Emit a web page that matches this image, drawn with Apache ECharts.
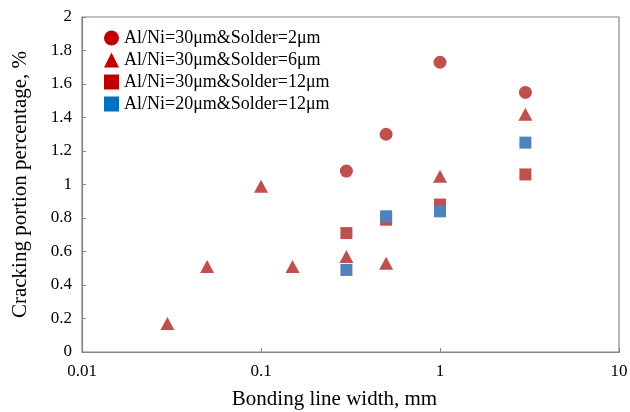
<!DOCTYPE html>
<html>
<head>
<meta charset="utf-8">
<script src="https://cdn.jsdelivr.net/npm/echarts@6/dist/echarts.min.js"></script>
<style>
html,body{margin:0;padding:0;background:#fff;}
#chart{width:630px;height:412px;}
</style>
</head>
<body>
<div id="chart"></div>
<script>
// Data
const seriesNames = [
  'Al/Ni=30μm&Solder=2μm',
  'Al/Ni=30μm&Solder=6μm',
  'Al/Ni=30μm&Solder=12μm',
  'Al/Ni=20μm&Solder=12μm'
];
const solder2X = [0.3, 0.5, 1, 3];
const solder2Y = [1.08, 1.30, 1.73, 1.55];
const solder6X = [0.03, 0.05, 0.1, 0.15, 0.3, 0.5, 1, 3];
const solder6Y = [0.17, 0.51, 0.99, 0.51, 0.57, 0.53, 1.05, 1.42];
const solder12X = [0.3, 0.5, 1, 3];
const solder12Y = [0.71, 0.79, 0.88, 1.06];
const alni20X = [0.3, 0.5, 1, 3];
const alni20Y = [0.49, 0.81, 0.84, 1.25];
const xTickLabels = ['0.01', '0.1', '1', '10'];
const xAxisTitle = 'Bonding line width, mm';
const yAxisTitle = 'Cracking portion percentage, %';

function pairs(xs, ys) { return xs.map((x, i) => [x, ys[i]]); }

const FONT = '"Liberation Serif", "Times New Roman", serif';
const RED = '#C0504D';
const BLUE = '#4F81BD';
const axisGray = '#868686';

const chart = echarts.init(document.getElementById('chart'), null, {renderer: 'canvas'});
chart.setOption({
  backgroundColor: '#fff',
  animation: false,
  grid: {left: 82, right: 11, top: 17, bottom: 60, outerBoundsMode: 'none', containLabel: false, show: true, borderColor: axisGray, borderWidth: 1.2, backgroundColor: 'transparent'},
  legend: {
    orient: 'vertical',
    left: 99,
    top: 24,
    itemWidth: 15,
    itemHeight: 15,
    itemGap: 4,
    itemTextGap: 3,
    textStyle: {fontFamily: FONT, fontSize: 18, color: '#000'},
    data: [
      {name: seriesNames[0], icon: 'circle', itemStyle: {color: '#C00000'}},
      {name: seriesNames[1], icon: 'triangle', itemStyle: {color: '#C00000'}},
      {name: seriesNames[2], icon: 'rect', itemStyle: {color: '#C00000'}},
      {name: seriesNames[3], icon: 'rect', itemStyle: {color: '#0070C0'}}
    ]
  },
  xAxis: {
    type: 'log',
    logBase: 10,
    min: 0.01,
    max: 10,
    name: xAxisTitle,
    nameLocation: 'middle',
    nameGap: 37,
    nameTextStyle: {fontFamily: FONT, fontSize: 21, color: '#000', padding: [0, 32, 0, 0]},
    axisLine: {show: true, lineStyle: {color: axisGray, width: 1.2}},
    axisTick: {show: true, inside: true, length: 4, lineStyle: {color: axisGray}},
    minorTick: {show: false},
    splitLine: {show: false},
    axisLabel: {
      fontFamily: FONT, fontSize: 17, color: '#000', margin: 11,
      formatter: function (v) {
        const idx = Math.round(Math.log10(v)) + 2;
        return xTickLabels[idx] !== undefined ? xTickLabels[idx] : '';
      }
    }
  },
  yAxis: {
    type: 'value',
    min: 0,
    max: 2,
    interval: 0.2,
    name: yAxisTitle,
    nameLocation: 'middle',
    nameGap: 51,
    nameTextStyle: {fontFamily: FONT, fontSize: 21, color: '#000'},
    axisLine: {show: true, lineStyle: {color: axisGray, width: 1.2}},
    axisTick: {show: true, inside: true, length: 4, lineStyle: {color: axisGray}},
    splitLine: {show: false},
    axisLabel: {fontFamily: FONT, fontSize: 17, color: '#000', margin: 10}
  },
  series: [
    {name: seriesNames[0], type: 'scatter', symbol: 'circle', symbolSize: 13, itemStyle: {color: RED, opacity: 1}, data: pairs(solder2X, solder2Y)},
    {name: seriesNames[1], type: 'scatter', symbol: 'triangle', symbolSize: [14, 13], itemStyle: {color: RED, opacity: 1}, data: pairs(solder6X, solder6Y)},
    {name: seriesNames[2], type: 'scatter', symbol: 'rect', symbolSize: 12, itemStyle: {color: RED, opacity: 1}, data: pairs(solder12X, solder12Y)},
    {name: seriesNames[3], type: 'scatter', symbol: 'rect', symbolSize: 12, itemStyle: {color: BLUE, opacity: 1}, data: pairs(alni20X, alni20Y)}
  ]
});
</script>
</body>
</html>
